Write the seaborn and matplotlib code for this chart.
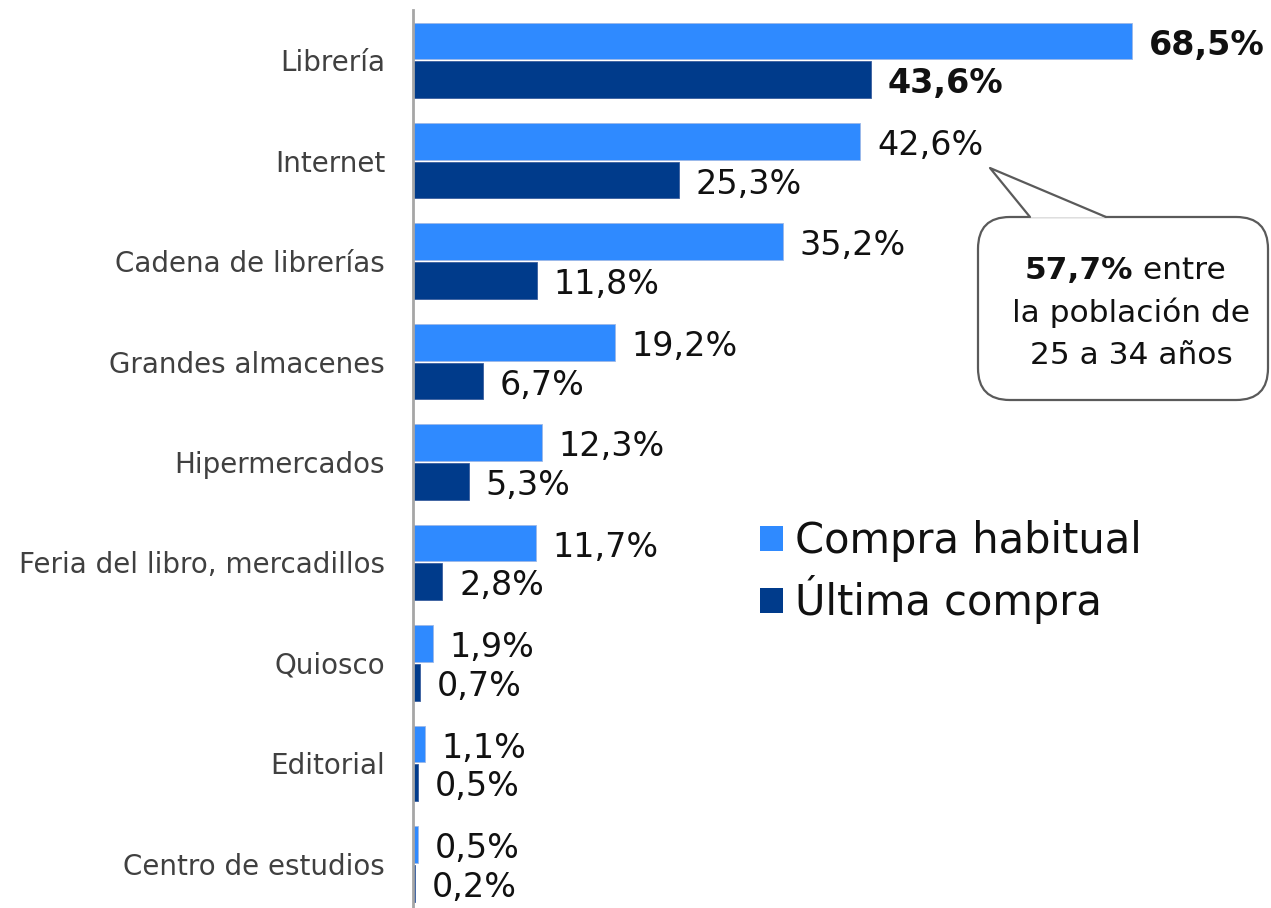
import matplotlib
matplotlib.use("Agg")
import matplotlib.pyplot as plt
from matplotlib.patches import FancyBboxPatch, Polygon, Patch
from matplotlib.lines import Line2D
import seaborn as sns
import pandas as pd

categorias = ["Librería", "Internet", "Cadena de librerías", "Grandes almacenes",
              "Hipermercados", "Feria del libro, mercadillos", "Quiosco",
              "Editorial", "Centro de estudios"]
compra_habitual = [68.5, 42.6, 35.2, 19.2, 12.3, 11.7, 1.9, 1.1, 0.5]
ultima_compra = [43.6, 25.3, 11.8, 6.7, 5.3, 2.8, 0.7, 0.5, 0.2]
series = ["Compra habitual", "Última compra"]
colores = ["#2F8AFF", "#003B8B"]

df = pd.DataFrame({
    "canal": categorias * 2,
    "valor": compra_habitual + ultima_compra,
    "serie": [series[0]] * len(categorias) + [series[1]] * len(categorias),
})

sns.set_theme(style="white")
plt.rcParams["font.family"] = ["DejaVu Sans"]

W, H = 1271, 908
fig = plt.figure(figsize=(W / 100, H / 100), dpi=100)
ax = fig.add_axes([413 / W, 0, 1 - 413 / W, 1 - 10 / H])

sns.barplot(data=df, y="canal", x="valor", hue="serie", order=categorias,
            hue_order=series, palette=colores, orient="h", width=0.77,
            gap=0.05, saturation=1, ax=ax, legend=False,
            edgecolor="#9DB8E6", linewidth=0.6)
# darker bars keep a thin outline of their own tone
for bar in ax.containers[1]:
    bar.set_edgecolor("#3A5E9E")

ax.set_xlim(0, (W - 413) / 10.5)
ax.set_ylim(8.44, -0.5)
ax.set_xlabel("")
ax.set_ylabel("")
ax.set_xticks([])
for s in ["top", "right", "bottom"]:
    ax.spines[s].set_visible(False)
ax.spines["left"].set_color("#A6A6A6")
ax.spines["left"].set_linewidth(2)
ax.tick_params(axis="y", length=0, pad=20, labelsize=20, labelcolor="#404040")

# value labels next to each bar
for cont, vals in zip(ax.containers, [compra_habitual, ultima_compra]):
    labels = [f"{v:.1f}%".replace(".", ",") for v in vals]
    texts = ax.bar_label(cont, labels=labels, padding=12, fontsize=24,
                         color="#111111")
    for t in texts:
        t.xyann = (12, -3)
    texts[0].set_fontweight("bold")

# legend
handles = [Patch(facecolor=c, edgecolor="none") for c in colores]
fig.legend(handles, series, loc="upper left",
           bbox_to_anchor=(760 / W, 1 - 520 / H), frameon=False,
           fontsize=30, handlelength=0.55, handleheight=0.55,
           handletextpad=0.3, labelspacing=0.32, borderpad=0,
           borderaxespad=0, labelcolor="#111111")

# callout bubble
def fx(px):
    return px / W

def fy(py):
    return 1 - py / H

box = FancyBboxPatch((fx(978), fy(400)), fx(1268) - fx(978), fy(217) - fy(400),
                     boxstyle="round,pad=0,rounding_size=0.025",
                     transform=fig.transFigure, facecolor="white",
                     edgecolor="#5A5A5A", linewidth=1.6,
                     mutation_aspect=W / H)
fig.add_artist(box)
tail = Polygon([(fx(1030), fy(217.8)), (fx(990), fy(168)), (fx(1106), fy(217.8))],
               closed=False, transform=fig.transFigure, facecolor="white",
               edgecolor="none")
fig.add_artist(tail)
fig.add_artist(Line2D([fx(1030), fx(990), fx(1106)], [fy(217), fy(168), fy(217)],
                      transform=fig.transFigure, color="#5A5A5A", linewidth=1.6))

fs_box = 22.5
fig.text(fx(1133), fy(271), "57,7%", fontsize=fs_box, fontweight="bold",
         ha="right", va="center", color="#111111")
fig.text(fx(1133), fy(271), " entre", fontsize=fs_box, ha="left",
         va="center", color="#111111")
fig.text(fx(1131), fy(313), "la población de", fontsize=fs_box, ha="center",
         va="center", color="#111111")
fig.text(fx(1131), fy(355), "25 a 34 años", fontsize=fs_box, ha="center",
         va="center", color="#111111")

fig.savefig("out.png", dpi=100)
